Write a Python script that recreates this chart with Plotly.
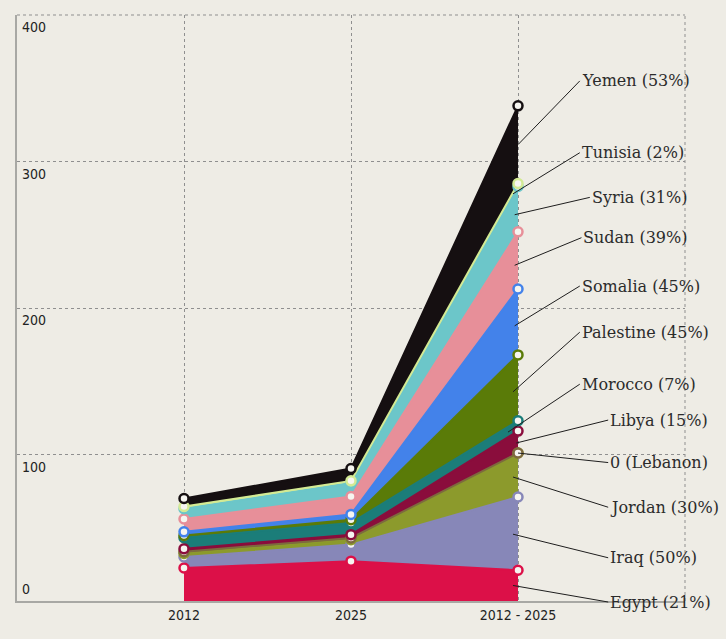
import numpy as np
import plotly.graph_objects as go

# ---------------- data ----------------
periods = ["2012", "2025", "2012 - 2025"]
countries = ["Egypt", "Iraq", "Jordan", "Lebanon", "Libya", "Morocco",
             "Palestine", "Somalia", "Sudan", "Syria", "Tunisia", "Yemen"]
values_2012 = [22.5, 7.5, 2.5, 1.2, 2.0, 7.5, 1.5, 2.5, 8.8, 7.0, 1.5, 5.5]
values_2025 = [27.2, 11.3, 3.3, 1.2, 2.3, 8.0, 2.2, 3.6, 12.2, 9.2, 1.5, 8.4]
change_pct = [21, 50, 30, 0, 15, 7, 45, 45, 39, 31, 2, 53]
label_texts = ["Egypt (21%)", "Iraq (50%)", "Jordan (30%)", "0 (Lebanon)",
               "Libya (15%)", "Morocco (7%)", "Palestine (45%)", "Somalia (45%)",
               "Sudan (39%)", "Syria (31%)", "Tunisia (2%)", "Yemen (53%)"]
y_ticks = [0, 100, 200, 300, 400]

# ---------------- styles / positions ----------------
colors = ["#dc1048", "#8787b8", "#8c9a2c", "#7d6a3e", "#8a0d3c", "#1b7d79",
          "#5a7b08", "#4382ea", "#e78f99", "#6cc6c9", "#d3ea94", "#150f11"]
# label (tail) positions in axis units (x, y)
label_pos = [(2.54, -0.7), (2.54, 29.5), (2.54, 64), (2.54, 94.5), (2.54, 123.5),
             (2.37, 148), (2.37, 183.5), (2.37, 215), (2.38, 248), (2.43, 275.5),
             (2.37, 306), (2.37, 355)]
# horizontal offset of each leader-line head from the last column
head_dx = [-0.03, -0.03, -0.03, 0.0, -0.01, -0.06, -0.03, -0.02, -0.02, -0.02, -0.03, 0.0]

BG = "#eeece5"
GRID = "#8f8f8f"
TICK_FONT = dict(family="DejaVu Sans Condensed, Liberation Sans Narrow, Arial Narrow, Roboto, sans-serif",
                 size=14, color="#222222")
LABEL_FONT = dict(family="DejaVu Serif, Liberation Serif, Georgia, serif", size=16, color="#2b2b2b")

xpos = list(range(len(periods)))
series = [[a, b, c] for a, b, c in zip(values_2012, values_2025, change_pct)]
cum = np.cumsum(np.array(series), axis=0)

fig = go.Figure()

for name, vals, col in zip(countries, series, colors):
    fig.add_trace(go.Scatter(
        x=xpos, y=vals, name=name, stackgroup="one", mode="lines",
        line=dict(color=col, width=2), fillcolor=col, hoverinfo="skip"))

for name, top, col in zip(countries, cum, colors):
    fig.add_trace(go.Scatter(
        x=xpos, y=top, mode="markers", showlegend=False, hoverinfo="skip",
        marker=dict(size=9, color="#f6f5f0", line=dict(color=col, width=2.5))))

annotations = []
for t in y_ticks:
    annotations.append(dict(
        xref="paper", yref="y", x=0, y=t, xanchor="left", yanchor="middle",
        xshift=3, yshift=(-12 if t > 0 else 12), text=str(t), showarrow=False,
        font=TICK_FONT))

last = len(periods) - 1
for i, (txt, (lx, ly)) in enumerate(zip(label_texts, label_pos)):
    hx = last + head_dx[i]
    frac = 1 + head_dx[i]
    if i > 0:
        lo = cum[i - 1][last - 1] + (cum[i - 1][last] - cum[i - 1][last - 1]) * frac
    else:
        lo = 0
    hi = cum[i][last - 1] + (cum[i][last] - cum[i][last - 1]) * frac
    mid = (lo + hi) / 2
    annotations.append(dict(
        xref="x", yref="y", x=hx, y=mid,
        axref="x", ayref="y", ax=lx, ay=ly,
        showarrow=True, arrowhead=0, arrowwidth=1, arrowcolor="#1e1e1e",
        standoff=0, startstandoff=0,
        text=txt, xanchor="left", yanchor="middle", font=LABEL_FONT))

shapes = [
    dict(type="line", xref="paper", yref="paper", x0=0, x1=1, y0=1, y1=1,
         line=dict(color=GRID, width=1, dash="dot"), layer="below"),
    dict(type="line", xref="paper", yref="paper", x0=1, x1=1, y0=0, y1=1,
         line=dict(color=GRID, width=1, dash="dot"), layer="below"),
]

fig.update_layout(
    width=726, height=639,
    margin=dict(l=17, r=41, t=15, b=38),
    paper_bgcolor=BG, plot_bgcolor=BG,
    showlegend=False,
    annotations=annotations,
    shapes=shapes,
    xaxis=dict(
        range=[-1, 3], tickvals=xpos, ticktext=periods,
        showgrid=True, gridcolor=GRID, griddash="dot", gridwidth=1,
        zeroline=False, showline=True, linecolor="#a8a8a4", linewidth=2,
        ticks="", tickfont=TICK_FONT, fixedrange=True),
    yaxis=dict(
        range=[0, 400], tickvals=y_ticks, showticklabels=False,
        showgrid=True, gridcolor=GRID, griddash="dot", gridwidth=1,
        zeroline=False, showline=True, linecolor="#a8a8a4", linewidth=1.5,
        ticks="", fixedrange=True),
)

fig.write_html("out.html")
